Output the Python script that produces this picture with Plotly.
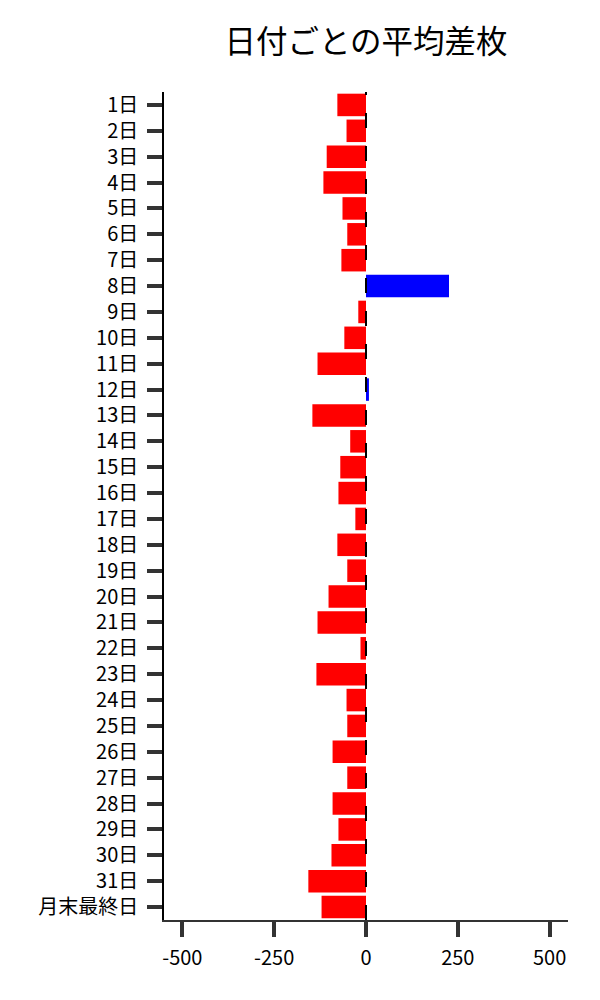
import plotly.graph_objects as go

days = [f"{i}日" for i in range(1, 32)] + ["月末最終日"]
avg_diff = [-78, -53, -107, -116, -64, -51, -67, 226, -21, -59,
            -132, 8, -146, -43, -70, -75, -29, -78, -51, -102,
            -132, -15, -135, -53, -51, -91, -51, -91, -75, -94,
            -157, -121]
x_ticks = [-500, -250, 0, 250, 500]

colors = ["#0000FF" if v > 0 else "#FF0000" for v in avg_diff]

fig = go.Figure()
fig.add_trace(go.Bar(x=avg_diff, y=days, orientation="h",
                     marker=dict(color=colors, line=dict(width=0))))

# dashed line at zero
fig.add_vline(x=0, line=dict(color="black", width=2, dash="15px,18px"))

fig.update_layout(
    width=600, height=1000,
    margin=dict(l=156, r=40, t=84, b=88),
    paper_bgcolor="white", plot_bgcolor="white",
    font=dict(family="Noto Sans CJK JP", size=20, color="black"),
    title=dict(text="日付ごとの平均差枚", xref="paper", x=0.5, xanchor="center",
               y=0.966, yanchor="middle", font=dict(size=31.5)),
    bargap=0.13,
    showlegend=False,
)
fig.update_xaxes(range=[-550, 550], tickvals=x_ticks,
                 ticktext=[str(v) for v in x_ticks],
                 showgrid=False, zeroline=False,
                 showline=True, linecolor="#333", linewidth=1.5,
                 ticks="outside", ticklen=15, tickwidth=4, tickcolor="#333",
                 ticklabelstandoff=4)
fig.update_yaxes(autorange="reversed", showgrid=False, zeroline=False,
                 showline=True, linecolor="black", linewidth=1.5,
                 ticks="outside", ticklen=15, tickwidth=4, tickcolor="#333",
                 ticklabelstandoff=5)

fig.write_html("out.html")
